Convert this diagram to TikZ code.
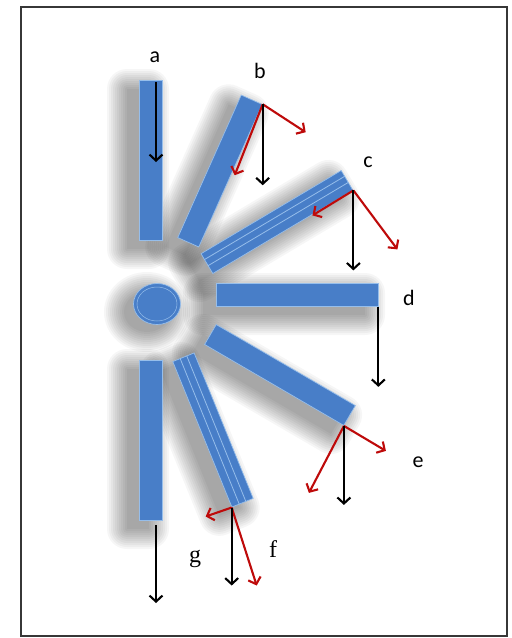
\documentclass[tikz,border=0pt]{standalone}
\usepackage{fontspec}
\setmainfont{Carlito}
\newfontfamily\seriffam{Liberation Serif}
\usetikzlibrary{arrows.meta,calc,shapes.geometric}
\definecolor{barblue}{RGB}{72,126,200}
\definecolor{edgeblue}{RGB}{150,190,235}
\definecolor{arrred}{RGB}{190,10,10}
\definecolor{framegray}{RGB}{55,55,55}
\newcommand{\barshadow}[4]{%
  \foreach \k in {0,2,...,20} {%
    \fill[black, opacity=0.035, rounded corners=\k pt, shift={(#1-13,#2+9)}, rotate=#3]
      (-#4/2-\k, -11-\k) rectangle (#4/2+\k, 11+\k);
  }}
\begin{document}
\begin{tikzpicture}[x=1pt,y=-1pt,
  bar/.style={fill=barblue, draw=edgeblue, line width=0.7pt, inner sep=0pt, minimum height=23pt},
  stripe/.style={draw=edgeblue, line width=0.8pt},
  blk/.style={draw=black, line width=2.1pt, -{Straight Barb[length=6pt,width=13pt]}},
  red/.style={draw=arrred, line width=2.1pt, -{Straight Barb[length=6pt,width=13pt]}},
  lbl/.style={font=\fontsize{22}{24}\selectfont, inner sep=0pt},
  slbl/.style={font=\seriffam\fontsize{24}{26}\selectfont, inner sep=0pt},
  frame/.style={draw=framegray, line width=2pt}]
\useasboundingbox (0,0) rectangle (512,638);
\fill[white] (0,0) rectangle (512,638);
\draw[frame] (21,7) rectangle (507,636);

% soft shadows
\barshadow{151}{160}{90}{160}
\barshadow{220}{171}{66}{156}
\barshadow{277}{222}{30.7}{163}
\barshadow{297}{295}{0}{162}
\barshadow{280}{375}{-30.2}{161}
\barshadow{213}{430}{-67.9}{157}
\barshadow{151}{440}{90}{160}
\foreach \k in {0,2,...,20} {%
  \fill[black, opacity=0.035] (147,312) ellipse ({23+\k} and {20+\k});
}

% hub
\node[ellipse, fill=barblue, draw=edgeblue, line width=0.7pt, minimum width=47pt, minimum height=41pt, inner sep=0pt] (hub) at (157,304) {};
\draw[edgeblue, line width=0.5pt] (hub.center) ellipse (20 and 17);

% bars
\node[bar, rotate=90, minimum width=160pt] (a) at (151,160) {};
\node[bar, rotate=66, minimum width=156pt] (b) at (220,171) {};
\node[bar, rotate=30.7, minimum width=163pt] (c) at (277,222) {};
\node[bar, minimum width=162pt] (d) at (297,295) {};
\node[bar, rotate=-30.2, minimum width=161pt] (e) at (280,375) {};
\node[bar, rotate=-67.9, minimum width=157pt] (f) at (213,430) {};
\node[bar, rotate=90, minimum width=160pt] (g) at (151,440) {};

% stripes on c and f
\draw[stripe] ($(c.south west)!0.4!(c.north west)$) -- ($(c.south east)!0.4!(c.north east)$);
\draw[stripe] ($(c.south west)!0.7!(c.north west)$) -- ($(c.south east)!0.7!(c.north east)$);
\draw[stripe] ($(f.south west)!0.35!(f.north west)$) -- ($(f.south east)!0.35!(f.north east)$);
\draw[stripe] ($(f.south west)!0.65!(f.north west)$) -- ($(f.south east)!0.65!(f.north east)$);

% arrows
\coordinate (a0) at (156,82);
\draw[blk] (a0) -- ++(0,80);

\draw[red] (b.south east) -- ++(-28,71);
\draw[red] (b.south east) -- ++(43,28);
\draw[blk] (b.south east) -- ++(0,81);

\draw[red] (c.south east) -- ++(-41,25);
\draw[red] (c.south east) -- ++(44,59);
\draw[blk] (c.south east) -- ++(0,80);

\draw[blk] (d.south east) -- ++(0,80);

\draw[red] (e.south east) -- ++(-35,67);
\draw[red] (e.south east) -- ++(42,25);
\draw[blk] (e.south east) -- ++(0,79);

\draw[red] (f.south east) -- ++(-26,9);
\draw[red] (f.south east) -- ++(25,78);
\draw[blk] (f.south east) -- ++(0,78);

\coordinate (g0) at (156,525);
\draw[blk] (g0) -- ++(0,78);

% labels
\node[lbl] (la) at (155,57) {a};
\node[lbl] (lb) at (260,71) {b};
\node[lbl] (lc) at (368,162) {c};
\node[lbl] (ld) at (409,298) {d};
\node[lbl] (le) at (418,462) {e};
\node[slbl] (lf) at (273,549) {f};
\node[slbl] (lg) at (195,559) {g};
\end{tikzpicture}
\end{document}
